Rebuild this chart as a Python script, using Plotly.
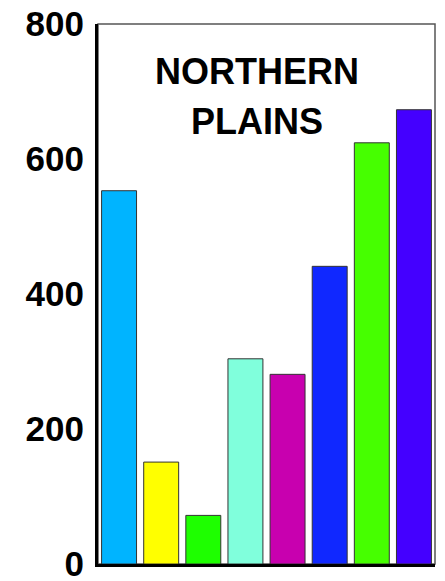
import plotly.graph_objects as go

categories = ["A", "B", "C", "D", "E", "F", "G", "H"]
values = [553, 151, 72, 304, 281, 441, 624, 673]
colors = ["#00B4FF", "#FFFF00", "#1EFF00", "#80FFDC", "#C800AF", "#1028FF", "#46FF00", "#4400FF"]
tick_vals = [0, 200, 400, 600, 800]
tick_text = ["0", "200", "400", "600", "800"]
title_lines = ["NORTHERN", "PLAINS"]
title_line_y = [0.9537, 0.8611]

fig = go.Figure()
fig.add_trace(go.Bar(
    x=categories, y=values,
    marker=dict(color=colors, line=dict(color="#333333", width=1)),
    width=0.83,
    hoverinfo="skip",
))

annotations = [dict(text="<b>" + t + "</b>", xref="paper", yref="paper", x=0.472, y=yy,
                    xanchor="center", yanchor="top", showarrow=False,
                    font=dict(size=36, family="Liberation Sans, Arial, sans-serif", color="black"))
               for t, yy in zip(title_lines, title_line_y)]

fig.update_layout(
    width=445, height=581,
    margin=dict(l=98, r=10, t=24, b=17),
    paper_bgcolor="white", plot_bgcolor="white",
    showlegend=False,
    font=dict(family="Liberation Sans, Arial, sans-serif", color="black"),
    xaxis=dict(showticklabels=False, ticks="", showgrid=False, zeroline=False,
               automargin=False,
               showline=True, linecolor="black", linewidth=3),
    yaxis=dict(range=[0, 800], tickvals=tick_vals, ticktext=tick_text,
               tickfont=dict(size=35, family="Liberation Sans, Arial, sans-serif", weight="bold"),
               ticks="", ticklabelstandoff=4, ticklabeloverflow="allow",
               automargin=False,
               showgrid=False, zeroline=False,
               showline=True, linecolor="black", linewidth=3),
    shapes=[dict(type="rect", xref="paper", yref="paper", x0=0, y0=0, x1=1, y1=1,
                 line=dict(color="#555555", width=1.5), layer="below")],
    annotations=annotations,
)

fig.write_html("out.html", config={"displayModeBar": False})
with open("out.html", "r", encoding="utf-8") as f:
    html = f.read()
html = html.replace("<head>", "<head><style>html,body{margin:0;padding:0;overflow:hidden;}</style>", 1)
with open("out.html", "w", encoding="utf-8") as f:
    f.write(html)
